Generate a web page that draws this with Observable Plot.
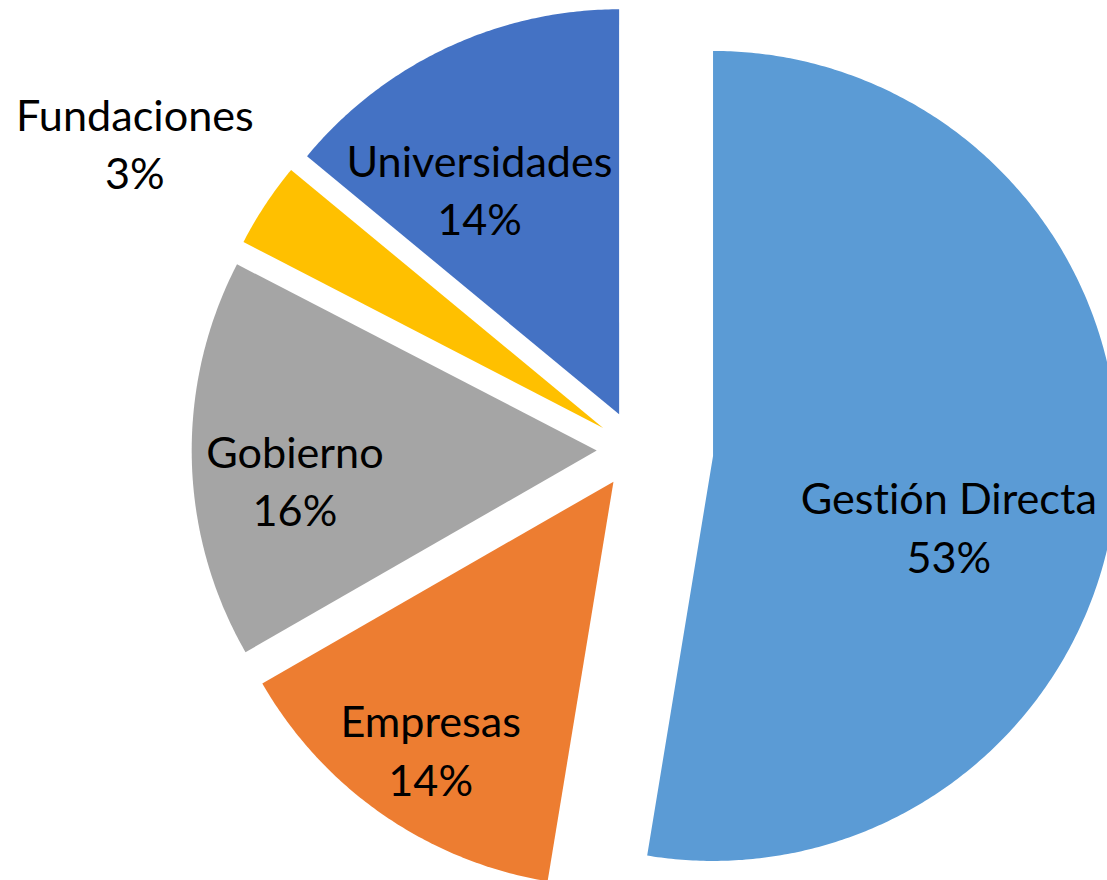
<!DOCTYPE html>
<html>
<head>
<meta charset="utf-8">
<script src="https://cdn.jsdelivr.net/npm/d3@7"></script>
<script src="https://cdn.jsdelivr.net/npm/@observablehq/plot@0.6"></script>
<style>
  html, body { margin: 0; padding: 0; background: #ffffff; }
  #chart svg { display: block; }
  #chart svg text { font-variant-ligatures: none; font-feature-settings: "liga" 0, "clig" 0; }
</style>
</head>
<body>
<div id="chart"></div>
<script>
// ---- data ----
const categories = ["Gestión Directa", "Empresas", "Gobierno", "Fundaciones", "Universidades"];
const shares = [52.6, 14.1, 15.9, 3.4, 14.0];
const colors = ["#5B9BD5", "#ED7D31", "#A5A5A5", "#FFC000", "#4472C4"];

// ---- layout / style ----
const W = 1107, H = 880;
const pieCenter = {cx: 635.2, cy: 449.1, r: 405};
const explode = [77.6, 39, 39, 39, 39];            // radial offset of each slice, px
const labelPolar = [[103.5, 322], [214.5, 362], [265.2, 342], [301.6, 588], [329.2, 305]]; // [angle deg, radius px]
const fontFamily = "Lato, 'Liberation Sans', sans-serif";

// fit font size so that "Gestión Directa" is ~297px wide (as in the reference)
const ctx = document.createElement("canvas").getContext("2d");
ctx.font = `100px ${fontFamily}`;
const w100 = ctx.measureText("Gestión Directa").width;
const fontSize = Math.round(100 * 297 / w100 * 10) / 10;
const lineGap = 58.3;

// ---- geometry from data ----
const arcs = d3.pie().sort(null).value(d => d)(shares);
const polys = [];
arcs.forEach((a, i) => {
  const cat = categories[i];
  const mid = (a.startAngle + a.endAngle) / 2;
  const vx = pieCenter.cx + explode[i] * Math.sin(mid);
  const vy = pieCenter.cy - explode[i] * Math.cos(mid);
  polys.push({cat, x: vx, y: vy});
  const n = Math.max(2, Math.ceil((a.endAngle - a.startAngle) / (Math.PI / 360)));
  for (let k = 0; k <= n; k++) {
    const t = a.startAngle + (a.endAngle - a.startAngle) * k / n;
    polys.push({cat, x: vx + pieCenter.r * Math.sin(t), y: vy - pieCenter.r * Math.cos(t)});
  }
  polys.push({cat, x: vx, y: vy});
});

const labels = categories.map((cat, i) => {
  const th = labelPolar[i][0] * Math.PI / 180;
  return {
    cat,
    text: `${cat}\n${Math.round(shares[i])}%`,
    x: pieCenter.cx + labelPolar[i][1] * Math.sin(th),
    y: pieCenter.cy - labelPolar[i][1] * Math.cos(th)
  };
});

const chart = Plot.plot({
  width: W,
  height: H,
  margin: 0,
  style: {background: "#ffffff", fontFamily},
  x: {domain: [0, W], range: [0, W], axis: null},
  y: {domain: [0, H], range: [0, H], axis: null},
  color: {domain: categories, range: colors},
  marks: [
    Plot.line(polys, {x: "x", y: "y", z: "cat", fill: "cat", stroke: "none", curve: "linear"}),
    Plot.text(labels, {
      x: "x", y: "y", text: "text",
      fill: "#000000",
      fontSize,
      fontFamily,
      lineHeight: lineGap / fontSize,
      textAnchor: "middle"
    })
  ]
});
document.getElementById("chart").appendChild(chart);
</script>
</body>
</html>
